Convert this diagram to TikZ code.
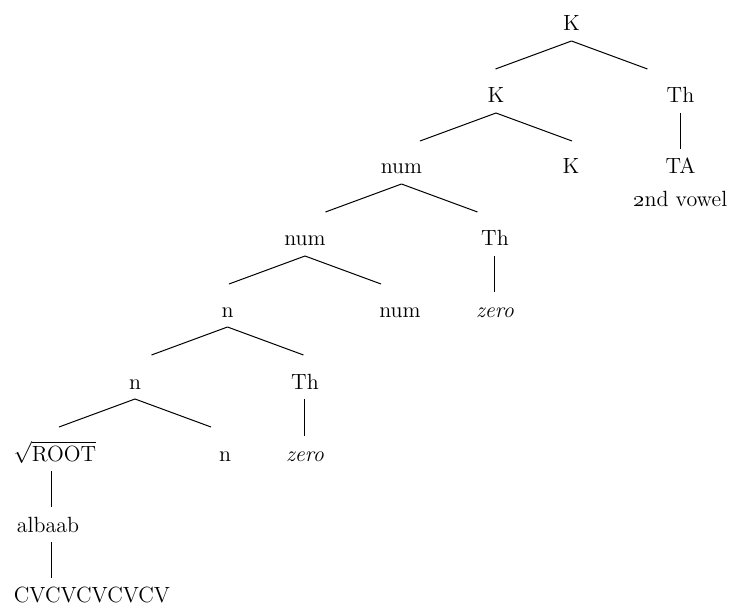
\documentclass[tikz,border=0pt]{standalone}
\usepackage{tikz}
\usetikzlibrary{positioning,calc}

\begin{document}
\begin{tikzpicture}[
            x=0.5pt, y=-0.5pt,
            font=\fontsize{11}{13}\selectfont,
            lab/.style={anchor=base, inner sep=0pt, outer sep=5pt, text height=7.5pt, text depth=0pt},
            edge/.style={line width=0.5pt}
        ]
            \useasboundingbox (0,0) rectangle (736,605);

            % Level 1
            \node[lab] (k1) at (571.5,31) {K};

            % Level 2
            \node[lab] (k2) at (496,103) {K};
            \node[lab] (th1) at (680.5,103) {Th};

            % Level 3
            \node[lab] (num1) at (401.5,174) {num};
            \node[lab] (k3) at (571,174) {K};
            \node[lab] (ta) at (680.5,174) {TA};
            \node[lab, below=-1.5pt of ta] (vowel) {\oldstylenums{2}nd vowel};

            % Level 4
            \node[lab] (num2) at (305,246) {num};
            \node[lab] (th2) at (495,246) {Th};

            % Level 5
            \node[lab] (n1) at (227.5,317) {n};
            \node[lab] (num3) at (400,317) {num};
            \node[lab] (zero1) at (495,317) {\textit{zero}};

            % Level 6
            \node[lab] (n2) at (135,389) {n};
            \node[lab] (th3) at (305,389) {Th};

            % Level 7
            \node[lab] (root) at (55,461) {$\sqrt{\mbox{ROOT}}$};
            \node[lab] (n3) at (225,461) {n};
            \node[lab] (zero2) at (305,461) {\textit{zero}};

            % Exponents
            \node[lab] (alb) at (48,532) {albaab};
            \node[lab] (cv) at (92,603) {CVCVCVCVCV};

            % Branches
            \draw[edge] (k1.south) -- ++(-76,28) coordinate (k1l);
            \draw[edge] (k1.south) -- ++(76,28) coordinate (k1r);
            \draw[edge] (k2.south) -- ++(-76,28) coordinate (k2l);
            \draw[edge] (k2.south) -- ++(76,28) coordinate (k2r);
            \draw[edge] (num1.south) -- ++(-76,28) coordinate (num1l);
            \draw[edge] (num1.south) -- ++(76,28) coordinate (num1r);
            \draw[edge] (num2.south) -- ++(-76,28) coordinate (num2l);
            \draw[edge] (num2.south) -- ++(76,28) coordinate (num2r);
            \draw[edge] (n1.south) -- ++(-76,28) coordinate (n1l);
            \draw[edge] (n1.south) -- ++(76,28) coordinate (n1r);
            \draw[edge] (n2.south) -- ++(-76,28) coordinate (n2l);
            \draw[edge] (n2.south) -- ++(76,28) coordinate (n2r);

            % Unary lines
            \draw[edge] (th1) -- (ta);
            \draw[edge] (th2) -- (zero1);
            \draw[edge] (th3) -- (zero2);
            \draw[edge] ([xshift=-1.5pt]root.south) -- ([xshift=2pt]alb.north);
            \draw[edge] ([xshift=2pt]alb.south) -- ([xshift=-20pt]cv.north);
        \end{tikzpicture}
\end{document}
